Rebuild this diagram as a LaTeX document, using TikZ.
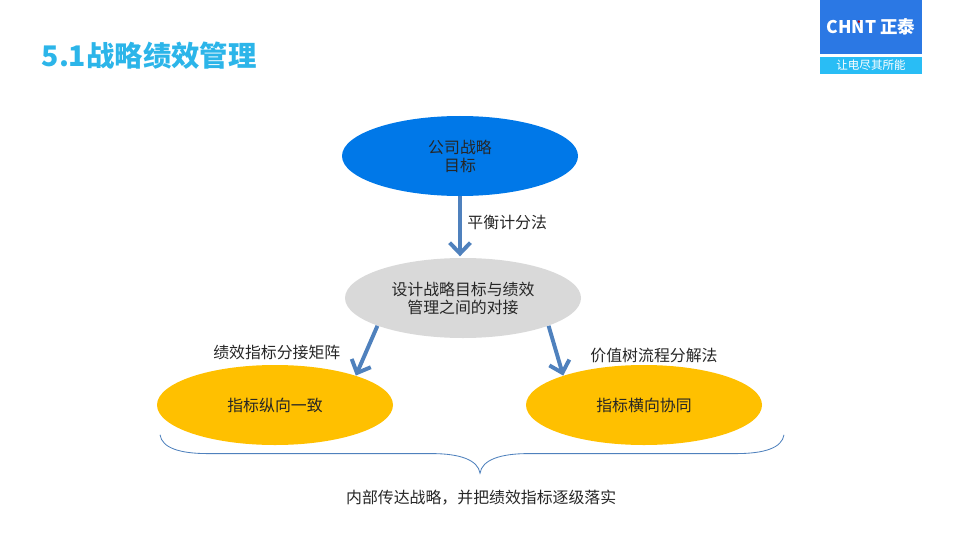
\documentclass[tikz,border=0pt]{standalone}
\usepackage{fontspec}
\setmainfont{Noto Sans CJK SC}
\usepackage{tikz}
\usetikzlibrary{shapes,arrows,positioning,calc,arrows.meta}
\definecolor{titlecyan}{HTML}{2CB5E9}
\definecolor{stratblue}{HTML}{0078E8}
\definecolor{bridgegrey}{HTML}{D9D9D9}
\definecolor{amber}{HTML}{FFC000}
\definecolor{linkblue}{HTML}{4F81BD}
\definecolor{logoblue}{HTML}{2B78E4}
\definecolor{logocyan}{HTML}{29BDF5}

\begin{document}
\begin{tikzpicture}[
  oval/.style={ellipse, inner sep=0pt, minimum width=5.9cm, minimum height=2.0cm,
    align=center, text depth=0pt, font=\fontsize{11.3}{13}\selectfont, text=black!85},
  stratoval/.style={oval, fill=stratblue},
  bridgeoval/.style={oval, fill=bridgegrey},
  goaloval/.style={oval, fill=amber},
  arrow/.style={-{Straight Barb[length=2.7mm,width=5.2mm,line width=2.8pt]},
    line width=2.8pt, draw=linkblue},
  linklabel/.style={font=\fontsize{11.3}{13}\selectfont, text=black!85},
]
\useasboundingbox (0,0) rectangle (24,13.5);

%% ── Title ──
\node[font=\fontsize{20.2}{24}\bfseries\selectfont, text=titlecyan, inner sep=0pt] (title)
  at (3.73,12.1) {5.1战略绩效管理};

%% ── Logo ──
\node[fill=logoblue, minimum width=2.55cm, minimum height=1.35cm, inner sep=0pt] (logotop) at (21.775,12.825) {};
\node[fill=logocyan, minimum width=2.55cm, minimum height=0.42cm, inner sep=0pt] (logobot) at (21.775,11.86) {};
\node[text=white, font=\fontsize{12.4}{14}\bfseries\selectfont, inner sep=0pt] (logoname) at (logotop) {CHNT 正泰};
\node[text=white, font=\fontsize{8.2}{10}\selectfont, inner sep=0pt] (logotag) at (logobot) {让电尽其所能};
\node[circle, fill=red!80!black, inner sep=0pt, minimum size=0.07cm] (logodot) at (21.47,12.96) {};

%% ── Ovals ──
\node[stratoval]  (strat)  at (11.5,9.6)    {公司战略\\目标};
\node[bridgeoval] (bridge) at (11.575,6.05) {设计战略目标与绩效\\管理之间的对接};
\node[goaloval]   (vert)   at (6.875,3.375) {指标纵向一致};
\node[goaloval]   (horiz)  at (16.1,3.375)  {指标横向协同};

%% ── Arrows ──
\draw[arrow, shorten >=1pt] (strat.south) -- (strat.south |- bridge.north);
\draw[arrow] (bridge.198) -- (vert.20);
\draw[arrow] (bridge.-18) -- (horiz.160);

%% ── Arrow labels ──
\node[linklabel] (bsc)  at (12.68,7.95) {平衡计分法};
\node[linklabel] (kpim) at (6.92,4.7)   {绩效指标分接矩阵};
\node[linklabel] (tree) at (16.35,4.6)  {价值树流程分解法};

%% ── Brace under the two lower ovals ──
\coordinate (braceL) at (4.0,2.63);
\coordinate (braceR) at (19.6,2.63);
\coordinate (braceT) at (12.0,1.67);
\draw[linkblue, line width=0.6pt]
  (braceL) .. controls (4.05,2.3) and (4.5,2.16) .. (5.2,2.16)
  -- (10.8,2.16) .. controls (11.5,2.16) and (11.95,2.0) .. (braceT)
  .. controls (12.05,2.0) and (12.5,2.16) .. (13.2,2.16)
  -- (18.4,2.16) .. controls (19.1,2.16) and (19.55,2.3) .. (braceR);
\node[linklabel] (summary) at (12.03,1.05) {内部传达战略，并把绩效指标逐级落实};
\end{tikzpicture}
\end{document}
